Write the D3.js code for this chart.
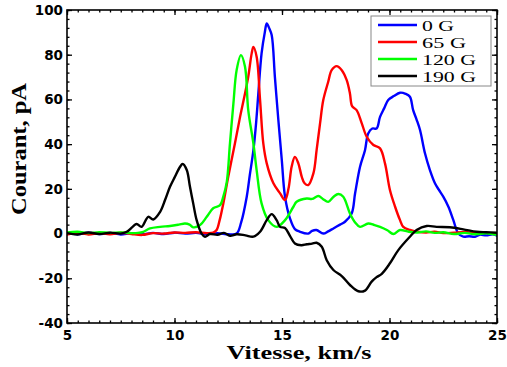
<!DOCTYPE html>
<html><head><meta charset="utf-8">
<script src="https://cdn.jsdelivr.net/npm/d3@7"></script>
<style>html,body{margin:0;padding:0;background:#fff;}svg{display:block;}</style>
</head><body>
<svg id="chart" width="507" height="367"></svg>
<script>
// ---- data ----
const seriesNames = ["0 G", "65 G", "120 G", "190 G"];
const seriesColors = ["#0000ff", "#ff0000", "#00ff00", "#000000"];
const xTicks = [5, 10, 15, 20, 25];
const yTicks = [-40, -20, 0, 20, 40, 60, 80, 100];

const blue0G = [[5,0.3],[5.5,-0.3],[6,0.4],[6.5,-0.2],[7,0.3],[7.5,-0.4],[8,0.2],[8.5,-0.3],[9,0.3],[9.5,-0.2],[10,0.4],[10.5,0],[11,0.3],[11.5,-0.2],[12,0.2],[12.5,-0.3],[12.89,0],[13.1,5],[13.36,16.5],[13.5,26],[13.67,37.3],[13.8,50],[13.9,62.7],[14.05,80.6],[14.2,90],[14.29,94],[14.4,92],[14.52,88.8],[14.67,70],[14.83,50.8],[14.99,32.9],[15.14,16.5],[15.37,6.8],[15.6,2],[15.84,0.8],[16.22,0],[16.4,1.2],[16.6,1.6],[16.92,0],[17.15,1],[17.39,2.3],[17.7,4],[17.93,5.3],[18.24,9],[18.4,18],[18.63,29.9],[18.86,37.3],[19.01,44.8],[19.2,47],[19.4,47],[19.56,52.2],[19.75,56],[19.94,59.7],[20.2,61.5],[20.49,63],[20.75,62.5],[20.95,61.2],[21.1,55.2],[21.26,51],[21.42,46.3],[21.65,35.9],[21.88,28.4],[22.12,22.4],[22.3,19.5],[22.5,16.5],[22.74,12],[22.97,6],[23.2,0],[23.43,-1.4],[23.7,-1.2],[23.98,-1.4],[24.2,-0.5],[24.5,-0.8],[24.8,-0.3],[25,-0.9]];

const red65G = [[5,-0.5],[5.5,0.3],[6,-0.4],[6.5,0.2],[7,-0.3],[7.5,0.4],[8,-0.2],[8.5,-0.6],[9,0.2],[9.5,0],[10,0.5],[10.5,0.3],[11,0.6],[11.5,0.2],[11.8,0.4],[11.96,1.6],[12.1,6],[12.27,13.5],[12.5,25.4],[12.81,40.3],[13.05,52.2],[13.28,62.7],[13.43,70.1],[13.59,80.6],[13.67,83.5],[13.82,79.1],[13.98,59.7],[14.13,40.3],[14.29,31.4],[14.6,22.5],[14.91,18],[15.14,15],[15.3,20],[15.45,30],[15.6,34.3],[15.76,31.4],[15.92,25.4],[16.05,22.5],[16.22,21.7],[16.46,26.9],[16.61,37.3],[16.77,49.3],[16.92,59.7],[17.15,67.9],[17.31,73.1],[17.54,74.9],[17.78,73.1],[18.01,68.6],[18.16,62.7],[18.26,57],[18.47,55.2],[18.71,49.3],[18.94,43.3],[19.25,39.6],[19.56,38.1],[19.79,31.4],[20.02,19.5],[20.26,12],[20.49,6],[20.64,3],[20.95,1.6],[21.3,0.8],[21.7,0.5],[22.1,0.8],[22.5,0.2],[23,0.4],[23.5,0.7],[24,0.2],[24.5,0.3],[25,0]];

const green120G = [[5,0.5],[5.5,0.8],[6,0.2],[6.5,0.6],[7,0.3],[7.5,0.5],[8,0.2],[8.3,0.3],[8.55,0.8],[8.86,2.3],[9.33,3],[9.79,3.4],[10.2,4],[10.49,4.5],[10.7,4],[10.87,2.8],[11.19,3.8],[11.5,7.5],[11.8,11.3],[12.12,12.7],[12.27,16.5],[12.43,23],[12.58,40.3],[12.74,58.2],[12.89,73.1],[13.09,79.8],[13.28,74.6],[13.43,55.2],[13.67,40.3],[13.82,28.4],[14.05,13.5],[14.36,6],[14.75,3],[15.14,6],[15.53,12],[15.68,14.2],[16.15,15.7],[16.4,15.5],[16.69,16.8],[16.9,15.5],[17.15,14.2],[17.4,16.5],[17.62,17.7],[17.85,16.5],[18.16,9],[18.4,5],[18.63,3],[19.01,4.5],[19.3,3.8],[19.56,3],[19.9,1.5],[20.18,-0.2],[20.49,1.6],[20.9,0.8],[21.3,0.5],[21.7,1],[22.1,0.3],[22.5,0.6],[23,-0.2],[23.5,0.3],[24,-0.3],[24.5,0.1],[25,-0.6]];

const black190G = [[5,0.2],[5.5,-0.4],[6,0.5],[6.5,-0.2],[7,0.4],[7.5,0],[7.78,0.8],[8.05,3],[8.24,4.3],[8.47,3],[8.78,7.5],[9.01,6.3],[9.33,9.7],[9.56,15],[9.79,20.9],[10.02,25.4],[10.26,29.9],[10.38,31.1],[10.57,28.4],[10.72,20.9],[10.87,13.5],[11.03,6],[11.26,0],[11.42,-1.4],[11.65,-0.2],[12,-0.5],[12.3,0.3],[12.58,-1],[12.9,-0.3],[13.3,-0.8],[13.67,-1.4],[13.98,0.8],[14.29,6],[14.52,8.7],[14.75,6],[14.91,3],[15.14,2.5],[15.37,-1],[15.6,-4.4],[15.9,-5.2],[16.15,-4.8],[16.4,-4.5],[16.61,-4.1],[16.85,-5.9],[17.08,-11.9],[17.39,-16.3],[17.78,-19],[18.16,-23],[18.55,-25.8],[18.86,-25.5],[19.17,-21.5],[19.4,-19.5],[19.64,-18],[20.02,-13.3],[20.41,-7.4],[20.95,-1.4],[21.26,1.6],[21.73,3.4],[22.19,3],[22.81,2.8],[23.43,1.9],[24.05,0.8],[24.5,0.6],[25,0.4]];

const allSeries = [blue0G, red65G, green120G, black190G];

// ---- layout ----
const svg = d3.select("#chart");
const L = 67, R = 497, T = 10, B = 323;
const x = d3.scaleLinear().domain([5, 25]).range([L, R]);
const y = d3.scaleLinear().domain([-40, 100]).range([B, T]);

const minorX = d3.range(5, 25.001, 0.5);
const minorY = d3.range(-40, 100.001, 4);

const fmt = d => String(d);
const tickFont = "'DejaVu Sans', sans-serif";

function styleAxis(g) {
  g.select(".domain").remove();
  g.selectAll("line").attr("stroke", "#000").attr("stroke-width", 1.3);
}

// bottom
svg.append("g").attr("transform", `translate(0,${B})`)
  .call(d3.axisBottom(x).tickValues(minorX).tickSize(-2.5).tickFormat(""))
  .call(styleAxis);
svg.append("g").attr("transform", `translate(0,${B})`)
  .call(d3.axisBottom(x).tickValues(xTicks).tickSize(-5).tickPadding(7).tickFormat(fmt))
  .call(styleAxis)
  .call(g => g.selectAll("text").attr("font-family", tickFont).attr("font-weight", "bold")
    .attr("font-size", 13.5).attr("fill", "#000").attr("dy", "0.71em"));
// top
svg.append("g").attr("transform", `translate(0,${T})`)
  .call(d3.axisTop(x).tickValues(minorX).tickSize(-2.5).tickFormat(""))
  .call(styleAxis);
svg.append("g").attr("transform", `translate(0,${T})`)
  .call(d3.axisTop(x).tickValues(xTicks).tickSize(-5).tickFormat(""))
  .call(styleAxis);
// left
svg.append("g").attr("transform", `translate(${L},0)`)
  .call(d3.axisLeft(y).tickValues(minorY).tickSize(-2.5).tickFormat(""))
  .call(styleAxis);
svg.append("g").attr("transform", `translate(${L},0)`)
  .call(d3.axisLeft(y).tickValues(yTicks).tickSize(-5).tickPadding(4).tickFormat(fmt))
  .call(styleAxis)
  .call(g => g.selectAll("text").attr("font-family", tickFont).attr("font-weight", "bold")
    .attr("font-size", 13.5).attr("fill", "#000"));
// right
svg.append("g").attr("transform", `translate(${R},0)`)
  .call(d3.axisRight(y).tickValues(minorY).tickSize(-2.5).tickFormat(""))
  .call(styleAxis);
svg.append("g").attr("transform", `translate(${R},0)`)
  .call(d3.axisRight(y).tickValues(yTicks).tickSize(-5).tickFormat(""))
  .call(styleAxis);

// lines
const line = d3.line().x(d => x(d[0])).y(d => y(d[1])).curve(d3.curveCatmullRom.alpha(0.5));
svg.append("defs").append("clipPath").attr("id", "clip")
  .append("rect").attr("x", L).attr("y", T).attr("width", R - L).attr("height", B - T);
const lines = svg.append("g").attr("clip-path", "url(#clip)");
allSeries.forEach((s, i) => {
  lines.append("path").datum(s).attr("d", line)
    .attr("fill", "none").attr("stroke", seriesColors[i]).attr("stroke-width", 2.4)
    .attr("stroke-linejoin", "round").attr("stroke-linecap", "round");
});

// frame
svg.append("rect").attr("x", L).attr("y", T).attr("width", R - L).attr("height", B - T)
  .attr("fill", "none").attr("stroke", "#000").attr("stroke-width", 1.6);

// legend
const lg = svg.append("g");
lg.append("rect").attr("x", 371).attr("y", 16).attr("width", 120).attr("height", 70)
  .attr("fill", "#fff").attr("stroke", "#888").attr("stroke-width", 1);
const legWidths = [32, 44, 54, 54];
seriesNames.forEach((n, i) => {
  const cy = 25 + i * 17;
  lg.append("line").attr("x1", 378).attr("x2", 417).attr("y1", cy).attr("y2", cy)
    .attr("stroke", seriesColors[i]).attr("stroke-width", 2.4);
  lg.append("text").attr("x", 422).attr("y", cy + 5.5).text(n)
    .attr("font-family", "'Liberation Serif', serif").attr("font-size", 15)
    .attr("textLength", legWidths[i]).attr("lengthAdjust", "spacingAndGlyphs").attr("fill", "#000");
});

// axis titles
svg.append("text").attr("x", 299).attr("y", 359).attr("text-anchor", "middle")
  .attr("font-family", "'Liberation Serif', serif").attr("font-weight", "bold").attr("font-size", 18)
  .attr("textLength", 145).attr("lengthAdjust", "spacingAndGlyphs").text("Vitesse, km/s");
svg.append("text").attr("transform", "translate(26,149) rotate(-90)").attr("text-anchor", "middle")
  .attr("font-family", "'Liberation Serif', serif").attr("font-weight", "bold").attr("font-size", 20)
  .attr("textLength", 132).attr("lengthAdjust", "spacingAndGlyphs").text("Courant, pA");
</script>
</body></html>
